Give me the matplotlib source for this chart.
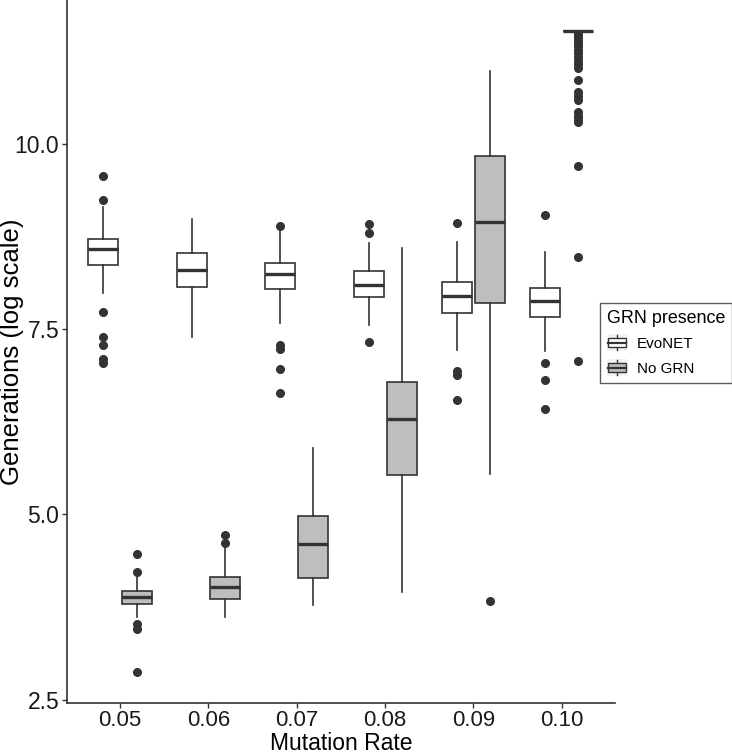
import matplotlib
matplotlib.use("Agg")
from matplotlib import pyplot as plt
from matplotlib.legend_handler import HandlerBase
from matplotlib.patches import Rectangle
from matplotlib.lines import Line2D
import numpy as np

plt.rcParams['font.family'] = ['Liberation Sans', 'DejaVu Sans']

rates = ["0.05", "0.06", "0.07", "0.08", "0.09", "0.10"]
groups = ["EvoNET", "No GRN"]

# five-number summaries (log generations)
evo_whislo = [7.99, 7.39, 7.58, 7.55, 7.22, 7.21]
evo_q1 = [8.36, 8.07, 8.04, 7.94, 7.72, 7.67]
evo_med = [8.58, 8.30, 8.25, 8.10, 7.95, 7.88]
evo_q3 = [8.71, 8.53, 8.39, 8.28, 8.13, 8.05]
evo_whishi = [9.15, 8.99, 8.86, 8.66, 8.67, 8.54]
evo_fliers = [
    [9.56, 9.24, 7.73, 7.40, 7.28, 7.10, 7.04],
    [],
    [8.89, 7.29, 7.23, 6.96, 6.64],
    [8.92, 8.80, 7.32],
    [8.93, 6.94, 6.88, 6.55],
    [9.04, 7.04, 6.81, 6.42],
]

nogrn_whislo = [3.61, 3.61, 3.78, 3.95, 5.55, 11.52]
nogrn_q1 = [3.79, 3.86, 4.14, 5.53, 7.85, 11.52]
nogrn_med = [3.88, 4.02, 4.60, 6.29, 8.94, 11.52]
nogrn_q3 = [3.97, 4.15, 4.98, 6.79, 9.84, 11.52]
nogrn_whishi = [4.16, 4.57, 5.90, 8.59, 10.98, 11.52]
nogrn_fliers = [
    [4.47, 4.23, 3.52, 3.46, 2.88],
    [4.72, 4.62],
    [],
    [],
    [3.83],
    [11.48, 11.44, 11.40, 11.36, 11.32, 11.27, 11.22, 11.17, 11.12, 11.07,
     11.02, 10.86, 10.70, 10.64, 10.59, 10.43, 10.38, 10.34, 10.30, 9.70,
     8.47, 7.07],
]

edge = "#333333"
fills = {"EvoNET": "white", "No GRN": "#bebebe"}


def make_stats(lo, q1, med, q3, hi, fl):
    return [dict(whislo=a, q1=b, med=c, q3=d, whishi=e, fliers=f)
            for a, b, c, d, e, f in zip(lo, q1, med, q3, hi, fl)]


evo_stats = make_stats(evo_whislo, evo_q1, evo_med, evo_q3, evo_whishi, evo_fliers)
nogrn_stats = make_stats(nogrn_whislo, nogrn_q1, nogrn_med, nogrn_q3, nogrn_whishi, nogrn_fliers)

fig = plt.figure(figsize=(7.32, 7.54), dpi=100)
ax = fig.add_axes([0.0915, 0.0676, 0.7485, 0.9324])

x = np.arange(1, len(rates) + 1)
for stats, offset, name in [(evo_stats, -0.1875, "EvoNET"), (nogrn_stats, 0.1875, "No GRN")]:
    ax.bxp(stats, positions=x + offset, widths=0.34, patch_artist=True,
           showcaps=False,
           boxprops=dict(facecolor=fills[name], edgecolor=edge, linewidth=1.2),
           whiskerprops=dict(color=edge, linewidth=1.2),
           medianprops=dict(color=edge, linewidth=2.4, solid_capstyle="butt"),
           flierprops=dict(marker="o", markerfacecolor=edge, markeredgecolor=edge,
                           markersize=5.5))

ax.set_xlim(0.4, 6.6)
ax.set_ylim(2.456, 11.94)
ax.set_xticks(x)
ax.set_xticklabels(rates)
ax.set_yticks([2.5, 5.0, 7.5, 10.0])
ax.set_yticklabels(["2.5", "5.0", "7.5", "10.0"])
ax.tick_params(labelsize=16, length=3.5, width=1, color=edge, labelcolor="#1a1a1a",
               pad=1.5)
ax.tick_params(axis="y", labelsize=16.5, pad=2)
for s in ["top", "right"]:
    ax.spines[s].set_visible(False)
for s in ["left", "bottom"]:
    ax.spines[s].set_color(edge)
    ax.spines[s].set_linewidth(1.2)
ax.set_xlabel("Mutation Rate", fontsize=16.5)
ax.set_ylabel("Generations (log scale)", fontsize=18.5)
ax.xaxis.set_label_coords(0.5, -0.041)
ax.yaxis.set_label_coords(-0.079, 0.5)


class BoxKey(HandlerBase):
    def create_artists(self, legend, orig_handle, xdescent, ydescent,
                       width, height, fontsize, trans):
        x0 = -xdescent
        y0 = -ydescent
        cx = x0 + width / 2
        cy = y0 + height / 2
        bg = Rectangle((x0, y0), width, height, facecolor="#f2f2f2",
                       edgecolor="none", transform=trans)
        bw = width * 0.85
        bh = height * 0.55
        fc = orig_handle.get_facecolor()
        rect = Rectangle((cx - bw / 2, cy - bh / 2), bw, bh, facecolor=fc,
                         edgecolor=edge, linewidth=1.0, transform=trans)
        wl = Line2D([cx, cx], [y0 + height * 0.05, y0 + height * 0.95],
                    color=edge, linewidth=1.0, transform=trans)
        med = Line2D([cx - bw / 2, cx + bw / 2], [cy, cy],
                     color=edge, linewidth=1.6, transform=trans)
        return [bg, wl, rect, med]


handles = [Rectangle((0, 0), 1, 1, facecolor=fills[g]) for g in groups]
leg = fig.legend(handles, groups, handler_map={Rectangle: BoxKey()},
                 title="GRN presence", loc="upper right",
                 bbox_to_anchor=(0.9995, 0.598), fontsize=11,
                 title_fontsize=12.9, frameon=True, fancybox=False,
                 handlelength=1.35, handleheight=1.35, handletextpad=0.6,
                 borderpad=0.42, labelspacing=0.5, borderaxespad=0)
leg.get_frame().set_edgecolor(edge)
leg.get_frame().set_linewidth(1.0)
leg._legend_box.align = "left"

fig.savefig("out.png", dpi=100)
